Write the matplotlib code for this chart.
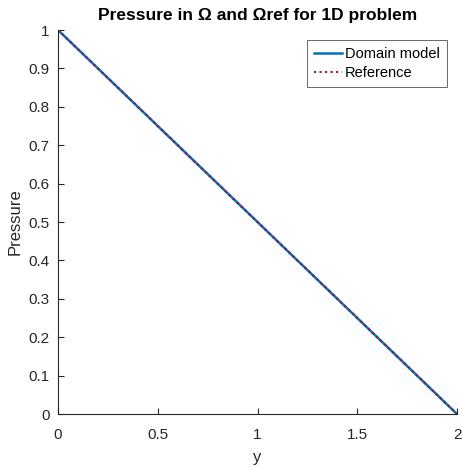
import numpy as np
import matplotlib
matplotlib.use("Agg")
import matplotlib.pyplot as plt

plt.rcParams['font.family'] = ['Liberation Sans', 'DejaVu Sans']

# pressure along y for the 1D problem
y_domain = [0.0, 0.5, 1.0, 1.5, 2.0]
p_domain = [1.0, 0.75, 0.5, 0.25, 0.0]
y_ref = [0.0, 0.5, 1.0, 1.5, 2.0]
p_ref = [1.0, 0.75, 0.5, 0.25, 0.0]

x_ticks = [0, 0.5, 1, 1.5, 2]
x_labels = ['0', '0.5', '1', '1.5', '2']
y_ticks = [0, 0.1, 0.2, 0.3, 0.4, 0.5, 0.6, 0.7, 0.8, 0.9, 1]
y_labels = ['0', '0.1', '0.2', '0.3', '0.4', '0.5', '0.6', '0.7', '0.8', '0.9', '1']

axis_color = '#262626'

fig = plt.figure(figsize=(4.62, 4.68), dpi=100)
ax = fig.add_axes([58 / 462, 1 - 414 / 468, 399 / 462, 384 / 468])

ax.plot(y_domain, p_domain, color='#0072BD', linewidth=1.8, label='Domain model')
ax.plot(y_ref, p_ref, color='#A2142F', linewidth=1.5, linestyle=':', label='Reference')

ax.set_xlim(0, 2)
ax.set_ylim(0, 1)
ax.set_xticks(x_ticks)
ax.set_xticklabels(x_labels)
ax.set_yticks(y_ticks)
ax.set_yticklabels(y_labels)

for side in ['top', 'right']:
    ax.spines[side].set_visible(False)
for side in ['left', 'bottom']:
    ax.spines[side].set_color(axis_color)
    ax.spines[side].set_linewidth(0.8)

ax.tick_params(direction='in', length=4, width=0.8, colors=axis_color,
               labelsize=11)
ax.tick_params(axis='x', pad=10)
ax.tick_params(axis='y', pad=6)

ax.set_xlabel('y', fontsize=12, color=axis_color, labelpad=6)
ax.set_ylabel('Pressure', fontsize=12, color=axis_color)
ax.set_title('Pressure in Ω and Ωref for 1D problem', fontsize=12.5,
             fontweight='bold', color='black', pad=7)

leg = ax.legend(loc='upper right', fontsize=10.5, frameon=True, fancybox=False,
                handlelength=1.9, handletextpad=0.2, borderpad=0.5,
                labelspacing=0.3, borderaxespad=0.7)
leg.get_frame().set_edgecolor(axis_color)
leg.get_frame().set_linewidth(0.6)

fig.savefig('out.png', dpi=100)
